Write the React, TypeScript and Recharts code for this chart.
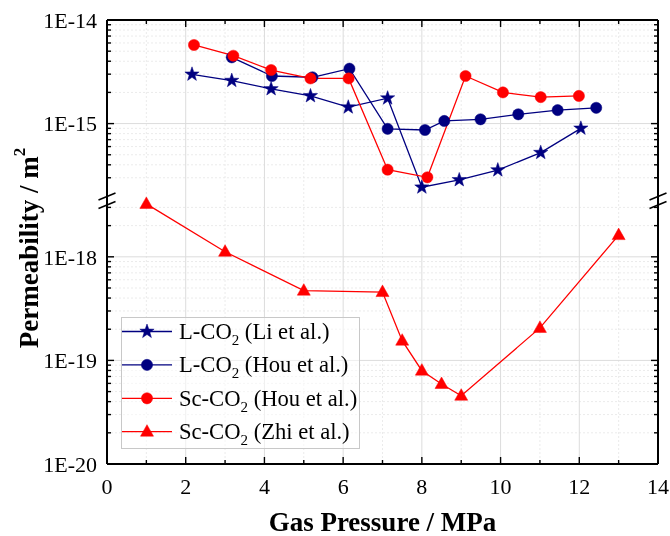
import React from 'react';
import { ComposedChart, Line, XAxis, YAxis, CartesianGrid, ReferenceLine, Legend } from 'recharts';

// ---- data ----
const pressureLi = [2.16, 3.17, 4.17, 5.17, 6.13, 7.13, 8.0, 8.95, 9.93, 11.02, 12.04];
const permLi = [2.99e-15, 2.6e-15, 2.16e-15, 1.85e-15, 1.44e-15, 1.76e-15, 2.43e-16, 2.86e-16, 3.56e-16, 5.24e-16, 9.0e-16];

const pressureHouL = [3.17, 4.19, 5.22, 6.16, 7.13, 8.08, 8.57, 9.49, 10.45, 11.45, 12.43];
const permHouL = [4.36e-15, 2.88e-15, 2.8e-15, 3.39e-15, 8.9e-16, 8.67e-16, 1.06e-15, 1.1e-15, 1.23e-15, 1.35e-15, 1.42e-15];

const pressureHouSc = [2.21, 3.21, 4.17, 5.17, 6.14, 7.13, 8.14, 9.11, 10.06, 11.02, 11.99];
const permHouSc = [5.74e-15, 4.52e-15, 3.29e-15, 2.73e-15, 2.73e-15, 3.59e-16, 3.03e-16, 2.88e-15, 2.0e-15, 1.8e-15, 1.85e-15];

const pressureZhi = [1, 3, 5, 7, 7.5, 8, 8.5, 9, 11, 13];
const permZhi = [3.24e-18, 1.12e-18, 4.71e-19, 4.57e-19, 1.55e-19, 7.96e-20, 5.92e-20, 4.56e-20, 2.06e-19, 1.62e-18];

const seriesNames = ['L-CO2 (Li et al.)', 'L-CO2 (Hou et al.)', 'Sc-CO2 (Hou et al.)', 'Sc-CO2 (Zhi et al.)'];

const xTickValues = [0, 1, 2, 3, 4, 5, 6, 7, 8, 9, 10, 11, 12, 13, 14];
const yMajorValues = [1e-20, 1e-19, 1e-18, 1e-15, 1e-14];
const yMajorLabels = ['1E-20', '1E-19', '1E-18', '1E-15', '1E-14'];
const lowerMinorValues = [2e-20, 3e-20, 4e-20, 5e-20, 6e-20, 7e-20, 8e-20, 9e-20, 2e-19, 3e-19, 4e-19, 5e-19, 6e-19, 7e-19, 8e-19, 9e-19, 2e-18, 3e-18];
const upperMinorValues = [3e-16, 4e-16, 5e-16, 6e-16, 7e-16, 8e-16, 9e-16, 2e-15, 3e-15, 4e-15, 5e-15, 6e-15, 7e-15, 8e-15, 9e-15];

// ---- broken log axis mapping ----
const SHIFT = 1.714; // decades removed by the axis break
const toAxis = (v: number) => (v >= 1e-17 ? Math.log10(v) - SHIFT : Math.log10(v));
const Y_MIN = -20;
const Y_MAX = -14 - SHIFT;
const BREAK_UP = -17.418;
const BREAK_LO = -17.5;

const mk = (xs: number[], ys: number[]) => xs.map((x, i) => ({ x, y: toAxis(ys[i]) }));
const liRows = mk(pressureLi, permLi);
const houLRows = mk(pressureHouL, permHouL);
const houScRows = mk(pressureHouSc, permHouSc);
const zhiRows = mk(pressureZhi, permZhi);

const majorAxis = yMajorValues.map(toAxis);
const minorAxis = [...lowerMinorValues, ...upperMinorValues].map(toAxis);
const yTicksAll = [...majorAxis, ...minorAxis].sort((a, b) => a - b);

const FONT = 'Liberation Serif, Times New Roman, DejaVu Serif, serif';
const NAVY = '#000080';
const RED = '#ff0000';

const majorIndex = (v: number) => majorAxis.findIndex((m) => Math.abs(m - v) < 1e-6);

const txt = (size: number, bold = false): React.CSSProperties => ({
  fontFamily: FONT,
  fontSize: size,
  fontWeight: bold ? 'bold' : 'normal',
});

const YTick = (props: any) => {
  const { x, y, payload, side } = props;
  const idx = majorIndex(payload.value);
  const len = idx >= 0 ? 7 : 4;
  const dir = side === 'left' ? 1 : -1;
  return (
    <g>
      <line x1={x} y1={y} x2={x + dir * len} y2={y} stroke="#000" strokeWidth={1.4} />
      {side === 'left' && idx >= 0 && (
        <text x={x - 10} y={y} dy="0.35em" textAnchor="end" style={txt(22)} fill="#000">
          {yMajorLabels[idx]}
        </text>
      )}
    </g>
  );
};

const XTick = (props: any) => {
  const { x, y, payload, side } = props;
  const v = payload.value;
  const major = v % 2 === 0;
  const len = major ? 7 : 4;
  const dir = side === 'bottom' ? -1 : 1;
  return (
    <g>
      <line x1={x} y1={y} x2={x} y2={y + dir * len} stroke="#000" strokeWidth={1.4} />
      {side === 'bottom' && major && (
        <text x={x} y={y + 30} textAnchor="middle" style={txt(22)} fill="#000">
          {v}
        </text>
      )}
    </g>
  );
};

const starPoints = (cx: number, cy: number, R: number, r: number) => {
  const pts: string[] = [];
  for (let i = 0; i < 10; i++) {
    const rad = i % 2 === 0 ? R : r;
    const a = -Math.PI / 2 + (i * Math.PI) / 5;
    pts.push(`${cx + rad * Math.cos(a)},${cy + rad * Math.sin(a)}`);
  }
  return pts.join(' ');
};

const Marker = ({ shape, cx, cy, color }: any) => {
  if (shape === 'star') return <polygon points={starPoints(cx, cy, 7.5, 3)} fill={color} stroke={color} strokeWidth={0.5} />;
  if (shape === 'triangle')
    return <polygon points={`${cx},${cy - 7} ${cx - 6.5},${cy + 4.5} ${cx + 6.5},${cy + 4.5}`} fill={color} stroke={color} strokeWidth={0.5} />;
  return <circle cx={cx} cy={cy} r={5.6} fill={color} stroke={color} strokeWidth={0.5} />;
};

const dotFn = (shape: string, color: string) => (p: any) => (
  <Marker key={`d-${shape}-${color}-${p.index}`} shape={shape} cx={p.cx} cy={p.cy} color={color} />
);

const legendItems = [
  { shape: 'star', color: NAVY, name: seriesNames[0] },
  { shape: 'circle', color: NAVY, name: seriesNames[1] },
  { shape: 'circle', color: RED, name: seriesNames[2] },
  { shape: 'triangle', color: RED, name: seriesNames[3] },
];

const LegendBox = () => (
  <svg width={240} height={133} style={{ display: 'block' }}>
    <rect x={0.5} y={0.5} width={238} height={131} fill="rgba(255,255,255,0.55)" stroke="#c8c8c8" strokeWidth={1} />
    {legendItems.map((it, i) => {
      const cy = 14.5 + i * 33.4;
      const [pre, post] = it.name.split('2');
      return (
        <g key={i}>
          <line x1={1} y1={cy} x2={51} y2={cy} stroke={it.color} strokeWidth={1.3} />
          <Marker shape={it.shape} cx={26} cy={cy} color={it.color} />
          <text x={58} y={cy + 7.5} style={txt(22.6)} fill="#000">
            {pre}
            <tspan dy={6} style={{ fontSize: 15 }}>2</tspan>
            <tspan dy={-6}>{post}</tspan>
          </text>
        </g>
      );
    })}
  </svg>
);

const XTitle = (props: any) => {
  const vb = props.viewBox || {};
  return (
    <text x={vb.x + vb.width / 2} y={vb.y + 58} textAnchor="middle" dominantBaseline="central" style={txt(27, true)} fill="#000">
      Gas Pressure / MPa
    </text>
  );
};

const YTitle = (props: any) => {
  const vb = props.viewBox || {};
  const cx = 21;
  const cy = vb.y + vb.height / 2 + 6;
  return (
    <text x={cx} y={cy} transform={`rotate(-90, ${cx}, ${cy})`} textAnchor="middle" dominantBaseline="central" style={txt(27, true)} fill="#000">
      Permeability / m<tspan dy={-10} style={{ fontSize: 17 }}>2</tspan>
    </text>
  );
};

const evenX = xTickValues.filter((v) => v % 2 === 0);
const oddX = xTickValues.filter((v) => v % 2 !== 0);

const slash = (xc: number, yc: number) => [
  { x: xc - 0.216, y: yc - 0.034 },
  { x: xc + 0.216, y: yc + 0.034 },
];

export default function App() {
  return (
    <div style={{ fontFamily: FONT, position: 'fixed', left: 8, top: 8, width: 662, height: 528 }}>
      <ComposedChart width={662} height={528} margin={{ top: 11, right: 11, bottom: 0, left: 0 }}>
        <CartesianGrid xAxisId="bottom" yAxisId="left" horizontalValues={minorAxis} verticalValues={oddX} stroke="#ebebeb" strokeDasharray="2 2" />
        <CartesianGrid xAxisId="bottom" yAxisId="left" horizontalValues={majorAxis} verticalValues={evenX} stroke="#dcdcdc" />
        <XAxis
          xAxisId="bottom"
          type="number"
          dataKey="x"
          domain={[0, 14]}
          ticks={xTickValues}
          interval={0}
          allowDataOverflow
          height={72}
          tickSize={0}
          tickMargin={0}
          tickLine={false}
          axisLine={{ stroke: '#000', strokeWidth: 2 }}
          tick={<XTick side="bottom" />}
          label={{ content: (p: any) => <XTitle {...p} /> }}
        />
        <XAxis
          xAxisId="top"
          orientation="top"
          type="number"
          dataKey="x"
          domain={[0, 14]}
          ticks={xTickValues}
          interval={0}
          allowDataOverflow
          height={1}
          tickSize={0}
          tickMargin={0}
          tickLine={false}
          axisLine={{ stroke: '#000', strokeWidth: 2 }}
          tick={<XTick side="top" />}
        />
        <YAxis
          yAxisId="left"
          type="number"
          domain={[Y_MIN, Y_MAX]}
          ticks={yTicksAll}
          interval={0}
          allowDataOverflow
          width={99}
          tickSize={0}
          tickMargin={0}
          tickLine={false}
          axisLine={{ stroke: '#000', strokeWidth: 2 }}
          tick={<YTick side="left" />}
          label={{ content: (p: any) => <YTitle {...p} /> }}
        />
        <YAxis
          yAxisId="right"
          orientation="right"
          type="number"
          domain={[Y_MIN, Y_MAX]}
          ticks={yTicksAll}
          interval={0}
          allowDataOverflow
          width={1}
          tickSize={0}
          tickMargin={0}
          tickLine={false}
          axisLine={{ stroke: '#000', strokeWidth: 2 }}
          tick={<YTick side="right" />}
        />
        {[0, 14].map((xc) =>
          [BREAK_UP, BREAK_LO].map((yc) => (
            <ReferenceLine
              key={`b-${xc}-${yc}`}
              xAxisId="bottom"
              yAxisId="left"
              segment={slash(xc, yc)}
              stroke="#000"
              strokeWidth={1.5}
              ifOverflow="visible"
            />
          ))
        )}
        <Line data={liRows} dataKey="y" xAxisId="bottom" yAxisId="left" name={seriesNames[0]} stroke={NAVY} strokeWidth={1.3} dot={dotFn('star', NAVY)} activeDot={false} isAnimationActive={false} />
        <Line data={houLRows} dataKey="y" xAxisId="bottom" yAxisId="left" name={seriesNames[1]} stroke={NAVY} strokeWidth={1.3} dot={dotFn('circle', NAVY)} activeDot={false} isAnimationActive={false} />
        <Line data={houScRows} dataKey="y" xAxisId="bottom" yAxisId="left" name={seriesNames[2]} stroke={RED} strokeWidth={1.3} dot={dotFn('circle', RED)} activeDot={false} isAnimationActive={false} />
        <Line data={zhiRows} dataKey="y" xAxisId="bottom" yAxisId="left" name={seriesNames[3]} stroke={RED} strokeWidth={1.3} dot={dotFn('triangle', RED)} activeDot={false} isAnimationActive={false} />
        <Legend
          layout="vertical"
          align="center"
          verticalAlign="middle"
          content={() => <LegendBox />}
          wrapperStyle={{ left: 113, top: 309, width: 240, height: 133 }}
        />
      </ComposedChart>
    </div>
  );
}
